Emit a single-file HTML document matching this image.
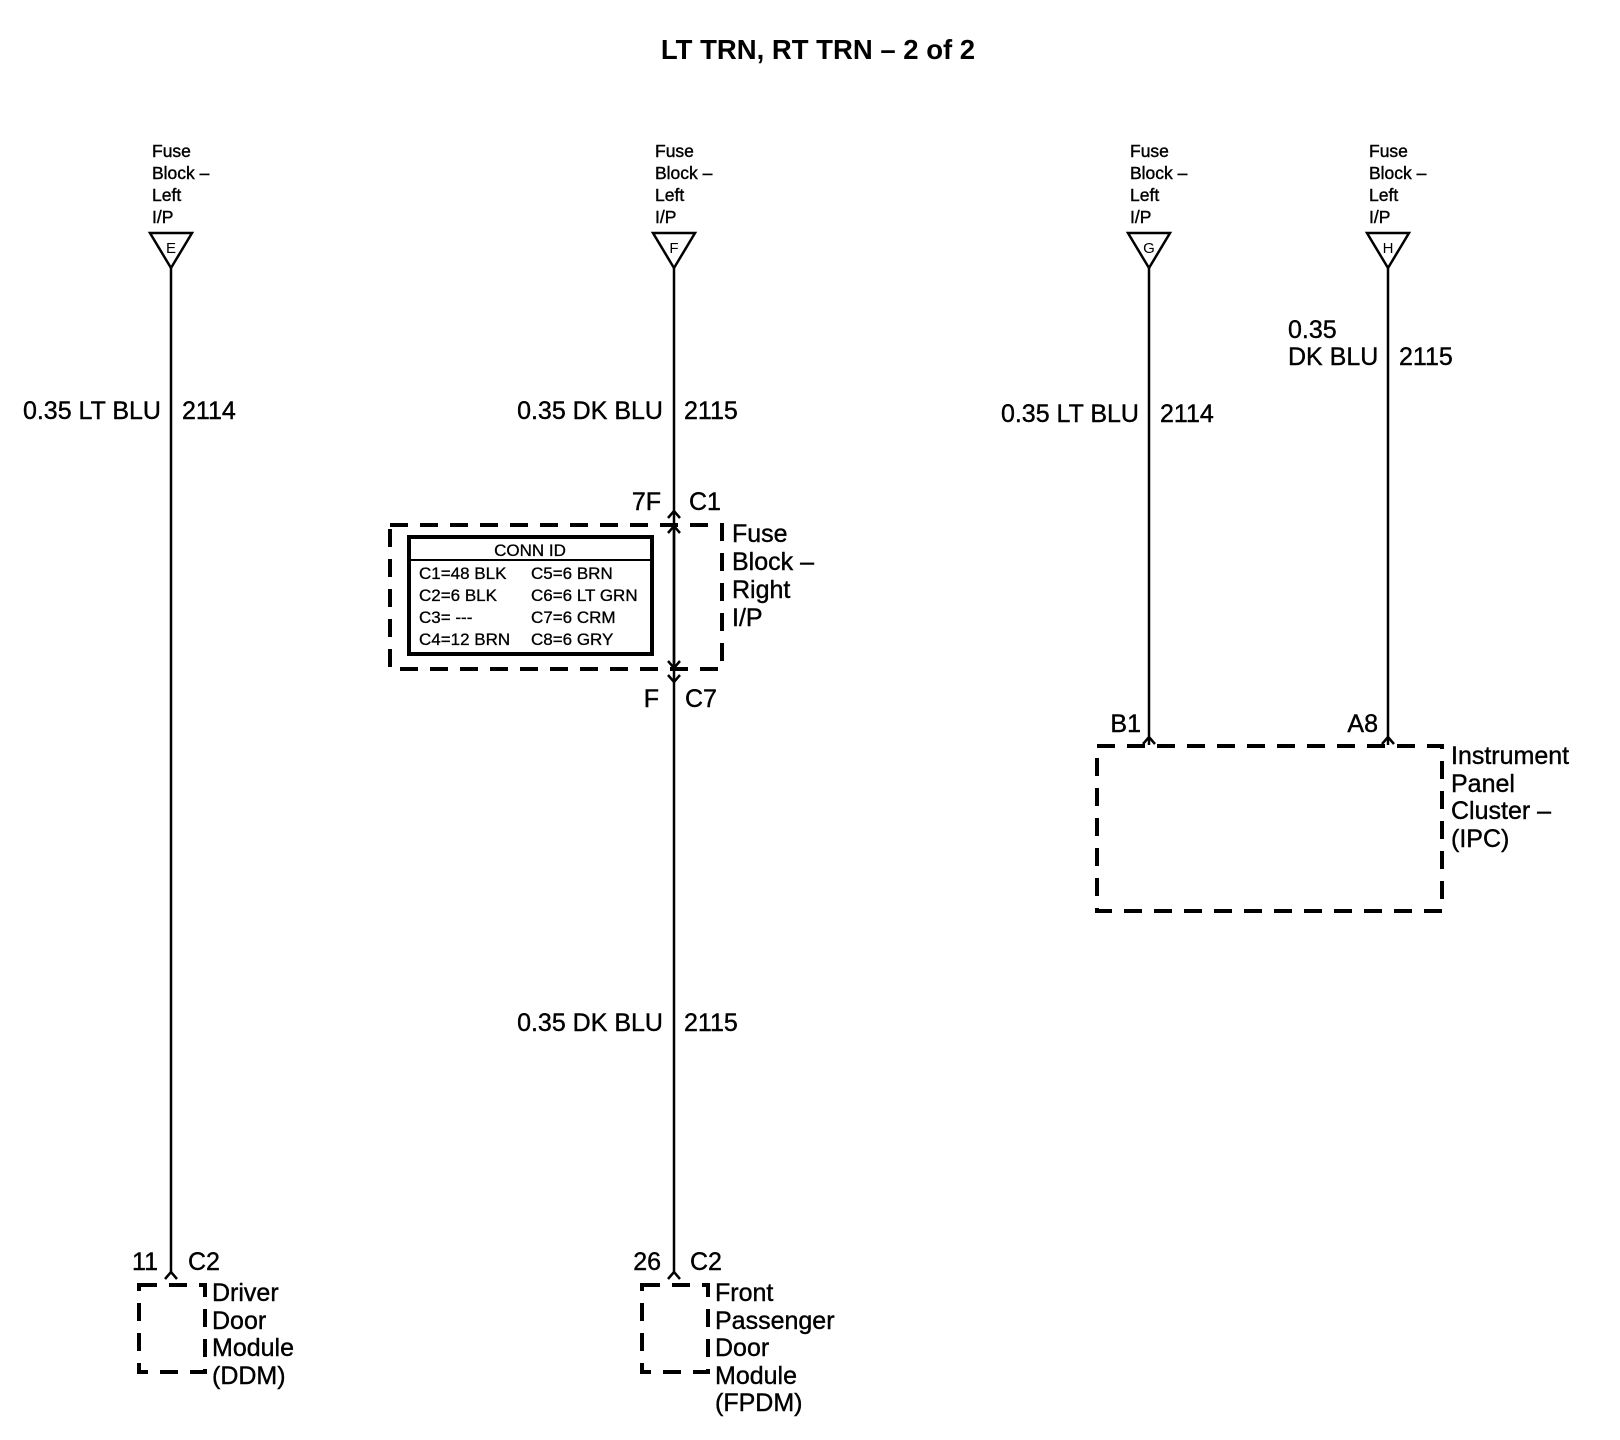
<!DOCTYPE html>
<html><head><style>
html,body{margin:0;padding:0;background:#fff;}
svg{display:block;}
text{font-family:"Liberation Sans",sans-serif;fill:#000;}
</style></head><body>
<svg width="1620" height="1440" viewBox="0 0 1620 1440" xmlns="http://www.w3.org/2000/svg">
<text x="818" y="59" font-size="27.5" font-weight="bold" text-anchor="middle">LT TRN, RT TRN – 2 of 2</text>

<g font-size="17.5" stroke="#000" stroke-width="0.4">
<text x="152" y="157">Fuse</text><text x="152" y="179">Block –</text><text x="152" y="201">Left</text><text x="152" y="223">I/P</text>
<text x="655" y="157">Fuse</text><text x="655" y="179">Block –</text><text x="655" y="201">Left</text><text x="655" y="223">I/P</text>
<text x="1130" y="157">Fuse</text><text x="1130" y="179">Block –</text><text x="1130" y="201">Left</text><text x="1130" y="223">I/P</text>
<text x="1369" y="157">Fuse</text><text x="1369" y="179">Block –</text><text x="1369" y="201">Left</text><text x="1369" y="223">I/P</text>
</g>

<g fill="none" stroke="#000" stroke-width="2.5">
<polygon points="150,233 192,233 171,268"/>
<polygon points="653,233 695,233 674,268"/>
<polygon points="1128,233 1170,233 1149,268"/>
<polygon points="1367,233 1409,233 1388,268"/>
<line x1="171" y1="268" x2="171" y2="1273"/>
<line x1="674" y1="268" x2="674" y2="1273"/>
<line x1="1149" y1="268" x2="1149" y2="745"/>
<line x1="1388" y1="268" x2="1388" y2="745"/>
<polyline points="165,1279 171,1272 177,1279"/>
<polyline points="668,1279 674,1272 680,1279"/>
<polyline points="668,518 674,511 680,518"/>
<polyline points="668,675 674,682 680,675"/>
<polyline points="1143,744 1149,737 1155,744"/>
<polyline points="1382,744 1388,737 1394,744"/>
</g>
<g font-size="15" text-anchor="middle">
<text x="171" y="253">E</text><text x="674" y="253">F</text><text x="1149" y="253">G</text><text x="1388" y="253">H</text>
</g>

<g font-size="25" stroke="#000" stroke-width="0.4">
<text x="161" y="419" text-anchor="end">0.35 LT BLU</text><text x="182" y="419">2114</text>
<text x="663" y="419" text-anchor="end">0.35 DK BLU</text><text x="684" y="419">2115</text>
<text x="1139" y="422" text-anchor="end">0.35 LT BLU</text><text x="1160" y="422">2114</text>
<text x="1288" y="338">0.35</text><text x="1288" y="365">DK BLU</text><text x="1399" y="365">2115</text>
<text x="663" y="1031" text-anchor="end">0.35 DK BLU</text><text x="684" y="1031">2115</text>

<text x="661" y="510" text-anchor="end">7F</text><text x="689" y="510">C1</text>
<text x="659" y="707" text-anchor="end">F</text><text x="685" y="707">C7</text>
<text x="732" y="542">Fuse</text><text x="732" y="570">Block –</text><text x="732" y="598">Right</text><text x="732" y="626">I/P</text>

<text x="158" y="1270" text-anchor="end">11</text><text x="188" y="1270">C2</text>
<text x="212" y="1301">Driver</text><text x="212" y="1329">Door</text><text x="212" y="1356">Module</text><text x="212" y="1384">(DDM)</text>

<text x="661" y="1270" text-anchor="end">26</text><text x="690" y="1270">C2</text>
<text x="715" y="1301">Front</text><text x="715" y="1329">Passenger</text><text x="715" y="1356">Door</text><text x="715" y="1384">Module</text><text x="715" y="1411">(FPDM)</text>

<text x="1141" y="732" text-anchor="end">B1</text><text x="1378" y="732" text-anchor="end">A8</text>
<text x="1451" y="764">Instrument</text><text x="1451" y="792">Panel</text><text x="1451" y="819">Cluster –</text><text x="1451" y="847">(IPC)</text>
</g>

<g fill="none" stroke="#000" stroke-width="4" stroke-dasharray="18,12">
<rect x="390" y="525" width="332" height="144"/>
<rect x="139" y="1285" width="66" height="87"/>
<rect x="642" y="1285" width="66" height="87"/>
<rect x="1097" y="746" width="345" height="165"/>
</g>

<rect x="409" y="537" width="243" height="117" fill="#fff" stroke="#000" stroke-width="4"/>
<line x1="409" y1="560" x2="652" y2="560" stroke="#000" stroke-width="2"/>
<line x1="674" y1="525" x2="674" y2="669" stroke="#000" stroke-width="2.5"/>
<polyline points="668,533 674,526 680,533" fill="none" stroke="#000" stroke-width="2.5"/>
<polyline points="668,661 674,668 680,661" fill="none" stroke="#000" stroke-width="2.5"/>
<g font-size="17" stroke="#000" stroke-width="0.3">
<text x="530" y="556" text-anchor="middle">CONN ID</text>
<text x="419" y="579">C1=48 BLK</text><text x="531" y="579">C5=6 BRN</text>
<text x="419" y="601">C2=6 BLK</text><text x="531" y="601">C6=6 LT GRN</text>
<text x="419" y="623">C3= ---</text><text x="531" y="623">C7=6 CRM</text>
<text x="419" y="645">C4=12 BRN</text><text x="531" y="645">C8=6 GRY</text>
</g>
</svg>
</body></html>
